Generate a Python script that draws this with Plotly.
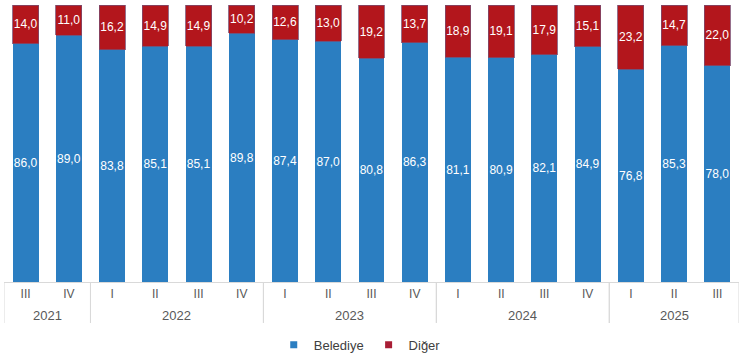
import plotly.graph_objects as go

years = ["2021", "2021", "2022", "2022", "2022", "2022", "2023", "2023", "2023", "2023",
         "2024", "2024", "2024", "2024", "2025", "2025", "2025"]
quarters = ["III", "IV", "I", "II", "III", "IV", "I", "II", "III", "IV",
            "I", "II", "III", "IV", "I", "II", "III"]
belediye = [86.0, 89.0, 83.8, 85.1, 85.1, 89.8, 87.4, 87.0, 80.8, 86.3,
            81.1, 80.9, 82.1, 84.9, 76.8, 85.3, 78.0]
diger = [14.0, 11.0, 16.2, 14.9, 14.9, 10.2, 12.6, 13.0, 19.2, 13.7,
         18.9, 19.1, 17.9, 15.1, 23.2, 14.7, 22.0]

BLUE = "#2B7EC1"
RED = "#B3161C"
GRID = "#D9D9D9"
FONT = "Liberation Sans, Arial, sans-serif"

idx = list(range(len(quarters)))

fig = go.Figure()
fig.add_trace(go.Bar(
    x=idx, y=belediye, name="Belediye", marker=dict(color=BLUE, line=dict(width=0)),
    texttemplate="%{y:.1f}", textposition="inside", insidetextanchor="middle", textangle=0,
    constraintext="none",
    textfont=dict(color="white", size=12, family=FONT), showlegend=False,
))
fig.add_trace(go.Bar(
    x=idx, y=diger, name="Diğer", marker=dict(color=RED, line=dict(width=0.8, color="#7C4B6E")),
    texttemplate="%{y:.1f}", textposition="inside", insidetextanchor="middle", textangle=0,
    constraintext="none",
    textfont=dict(color="white", size=12, family=FONT), showlegend=False,
))
# legend entries with small square markers
fig.add_trace(go.Scatter(x=[None], y=[None], mode="markers", name="Belediye",
                         marker=dict(symbol="square", size=7, color=BLUE)))
fig.add_trace(go.Scatter(x=[None], y=[None], mode="markers", name="Diğer",
                         marker=dict(symbol="square", size=7, color="#A81E35")))

# year groups: labels and dividers derived from the years list
groups = []
for i, yv in enumerate(years):
    if not groups or groups[-1][0] != yv:
        groups.append([yv, i, i])
    else:
        groups[-1][2] = i

annotations = []
shapes = []
for yv, a, b in groups:
    annotations.append(dict(x=(a + b) / 2, xref="x", y=0, yref="paper", yshift=-33,
                            text=yv, showarrow=False, yanchor="middle",
                            font=dict(size=13, color="#595959", family=FONT)))
    for edge in (a - 0.5, b + 0.5):
        shapes.append(dict(type="line", xref="x", yref="paper", x0=edge, x1=edge,
                           y0=0, y1=-0.148, line=dict(color=GRID, width=1)))

fig.update_layout(
    barmode="stack", bargap=0.4,
    width=745, height=358,
    margin=dict(l=4, r=6, t=5, b=76, autoexpand=False),
    paper_bgcolor="white", plot_bgcolor="white",
    separators=",.",
    font=dict(family=FONT, size=12, color="#595959"),
    showlegend=True,
    legend=dict(orientation="h", x=0.484, xanchor="center", y=-0.227, yanchor="middle",
                font=dict(size=13, color="#404040"), itemwidth=30, tracegroupgap=0,
                traceorder="normal"),
    xaxis=dict(range=[-0.5, len(idx) - 0.5], tickmode="array", tickvals=idx, ticktext=quarters,
               showline=True, linecolor=GRID, linewidth=1, ticks="", ticklabelstandoff=1,
               automargin=False,
               tickfont=dict(size=12, color="#595959"), showgrid=False, zeroline=False),
    yaxis=dict(range=[0, 100], visible=False, showgrid=False, zeroline=False),
    annotations=annotations, shapes=shapes,
)

fig.write_html("out.html", config={"displayModeBar": False},
               post_script="document.body.style.margin='0';document.body.style.overflow='hidden';")
